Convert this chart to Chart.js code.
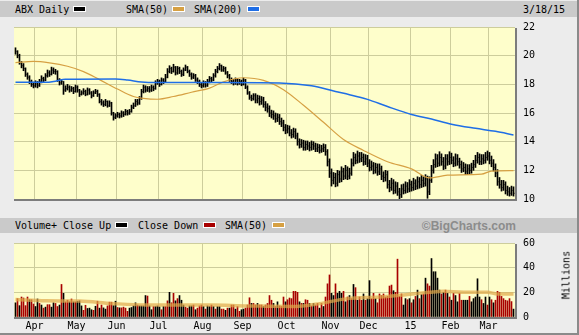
<!DOCTYPE html>
<html>
<head>
<meta charset="utf-8">
<title>ABX Daily</title>
<script src="https://cdn.jsdelivr.net/npm/chart.js@4.4.1/dist/chart.umd.min.js"></script>
<style>
  html, body { margin: 0; padding: 0; }
  body { width: 579px; height: 335px; overflow: hidden; background: #ececec;
         font: 10px "DejaVu Sans Mono", monospace; color: #000; }
  #frame { position: relative; width: 577px; height: 333px;
           border-right: 2px solid #8a8a8a; border-bottom: 2px solid #8a8a8a; }
  .bar { position: absolute; left: 0; width: 577px; background: #cacaca; }
  #topBar { top: 1px; height: 16px; }
  #volBar { top: 218px; height: 15px; }
  .lbl { position: absolute; white-space: pre; line-height: 12px; }
  .sw { position: absolute; width: 11px; height: 4px; border: 1px solid #fff; }
  canvas { position: absolute; left: 0; }
  #priceChart { top: 13px; }
  #volChart { top: 229px; }
  #millions { position: absolute; left: 566px; top: 275px; white-space: nowrap;
              transform: translate(-50%, -50%) rotate(-90deg); }
  #credit { position: absolute; right: 61px; top: 219px; line-height: 12px;
            font: bold 12px "Liberation Sans", Arial, sans-serif; color: #8c8c8c; }
</style>
</head>
<body>
<div id="frame">
  <div class="bar" id="topBar"></div>
  <span class="lbl" style="left:15px;top:4px">ABX Daily</span>
  <span class="sw" style="left:73px;top:6px;background:#000"></span>
  <span class="lbl" style="left:126px;top:4px">SMA(50)</span>
  <span class="sw" style="left:172px;top:6px;background:#d6a043"></span>
  <span class="lbl" style="left:194px;top:4px">SMA(200)</span>
  <span class="sw" style="left:247px;top:6px;background:#1f6ee6"></span>
  <span class="lbl" style="left:523px;top:4px">3/18/15</span>

  <canvas id="priceChart" width="579" height="200"></canvas>

  <div class="bar" id="volBar"></div>
  <span class="lbl" style="left:15px;top:220px">Volume+</span>
  <span class="lbl" style="left:63px;top:220px">Close Up</span>
  <span class="sw" style="left:115px;top:222px;background:#000"></span>
  <span class="lbl" style="left:138px;top:220px">Close Down</span>
  <span class="sw" style="left:203px;top:222px;background:#a80000"></span>
  <span class="lbl" style="left:225px;top:220px">SMA(50)</span>
  <span class="sw" style="left:272px;top:222px;background:#d6a043"></span>
  <span id="credit">&copy;BigCharts.com</span>

  <canvas id="volChart" width="579" height="104"></canvas>
  <div id="millions">Millions</div>
</div>

<script>
// month boundaries as trading-day index, with their axis labels
const monthStarts = [10, 31, 51, 72, 94, 114, 136, 158, 177, 198, 218, 237];
const monthLabels = ["Apr", "May", "Jun", "Jul", "Aug", "Sep", "Oct", "Nov", "Dec", "15", "Feb", "Mar"];
const priceTicks = [10, 12, 14, 16, 18, 20, 22];
const volumeTicks = [0, 20, 40, 60];

// daily prices
const closes = [
  20.3,20.0,19.5,19.3,19.1,18.7,18.5,18.2,18.0,17.9,
  18.1,17.9,18.2,18.4,18.3,18.6,18.8,18.7,19.0,18.9,
  18.9,18.3,18.1,18.2,17.6,17.7,17.8,17.6,17.7,17.5,
  17.8,17.6,17.3,17.4,17.5,17.3,17.6,17.4,17.2,17.4,
  17.5,17.3,16.8,16.7,16.6,16.8,16.5,16.7,16.0,15.7,
  15.8,15.9,15.8,16.0,15.9,16.1,16.0,16.1,16.4,16.5,
  16.8,16.7,17.0,17.5,17.8,17.6,17.7,17.6,17.8,17.7,
  18.1,18.2,18.0,18.3,18.2,18.5,18.9,19.1,18.9,19.2,
  18.8,19.1,18.9,18.7,19.0,19.2,18.9,18.7,18.5,18.6,
  18.3,18.2,18.0,17.9,18.1,17.9,18.2,18.4,18.3,18.6,
  18.9,19.1,19.3,19.0,19.1,18.8,18.6,18.3,18.2,18.1,
  18.3,18.1,18.2,18.0,18.3,17.8,17.4,17.1,17.0,17.2,
  16.9,17.0,16.8,16.9,16.6,16.4,16.3,16.0,15.9,15.8,
  15.6,15.7,15.4,15.3,15.0,14.8,14.9,14.6,14.5,14.7,
  14.4,14.0,13.8,13.9,13.6,13.8,13.7,13.6,13.8,13.7,
  13.5,13.6,13.4,13.5,13.6,13.3,12.6,11.8,11.3,11.5,
  11.1,11.7,11.4,11.9,11.6,12.0,11.6,11.8,12.5,12.9,
  12.7,13.0,12.8,12.9,12.6,12.8,12.5,12.2,12.3,12.0,
  12.2,11.9,12.1,11.6,11.5,11.7,11.0,10.8,11.1,10.6,
  10.9,10.5,10.3,10.7,10.6,10.9,10.7,11.0,10.8,11.1,
  10.9,11.2,11.0,11.3,11.1,11.4,10.5,11.3,12.0,12.4,
  12.8,12.5,12.9,12.6,12.3,12.8,12.6,12.9,12.7,12.5,
  12.8,12.6,12.4,12.1,12.2,11.9,12.1,12.0,12.2,12.4,
  12.7,12.9,12.6,12.8,12.7,12.9,13.0,12.7,12.5,12.2,
  11.8,11.2,11.0,10.8,11.0,10.6,10.5,10.4,10.6,10.4
];
const highs = [
  20.55,20.35,20.1,19.6,19.45,19.15,18.8,18.6,18.3,18.15,
  18.25,18.2,18.35,18.6,18.5,18.75,19.0,18.95,19.2,19.15,
  19.05,18.95,18.4,18.35,18.2,17.9,18.0,17.9,17.85,17.8,
  17.95,17.9,17.65,17.55,17.7,17.6,17.75,17.7,17.5,17.55,
  17.65,17.6,17.35,16.95,16.85,16.95,16.85,16.85,16.75,16.05,
  15.95,16.05,16.0,16.15,16.1,16.25,16.2,16.25,16.55,16.7,
  16.95,16.95,17.15,17.65,17.95,17.9,17.85,17.85,17.95,17.9,
  18.25,18.35,18.3,18.45,18.4,18.7,19.1,19.3,19.2,19.4,
  19.25,19.25,19.2,19.0,19.15,19.35,19.25,19.0,18.8,18.75,
  18.7,18.45,18.3,18.1,18.25,18.2,18.35,18.55,18.5,18.75,
  19.05,19.25,19.45,19.35,19.25,19.2,18.9,18.7,18.45,18.35,
  18.45,18.4,18.35,18.3,18.45,18.35,17.9,17.5,17.25,17.35,
  17.35,17.25,17.2,17.15,17.1,16.8,16.65,16.5,16.2,16.15,
  16.0,15.95,15.9,15.65,15.5,15.2,15.15,15.1,14.85,14.95,
  14.9,14.6,14.2,14.15,14.1,14.05,14.05,13.95,14.05,14.0,
  13.9,13.85,13.8,13.75,13.85,13.8,13.45,12.8,12.1,11.85,
  11.8,12.0,11.95,12.25,12.15,12.35,12.25,12.15,12.8,13.25,
  13.15,13.35,13.25,13.25,13.15,13.1,13.05,12.75,12.65,12.55,
  12.5,12.45,12.45,12.3,11.9,12.0,11.95,11.3,11.45,11.35,
  11.2,11.15,10.75,11.0,11.05,11.2,11.15,11.35,11.25,11.45,
  11.35,11.55,11.5,11.65,11.55,11.7,11.6,11.55,12.35,12.75,
  13.15,13.1,13.3,13.15,12.9,13.1,13.1,13.3,13.2,12.95,
  13.15,13.1,12.85,12.65,12.55,12.45,12.4,12.4,12.5,12.7,
  13.05,13.25,13.15,13.1,13.1,13.25,13.35,13.25,13.0,12.75,
  12.45,12.05,11.5,11.3,11.3,11.2,10.9,10.8,10.9,10.85
];
const lows = [
  20.1,19.85,19.4,19.15,18.95,18.55,18.35,18.05,17.85,17.75,
  17.8,17.75,17.85,18.1,18.15,18.25,18.5,18.55,18.65,18.75,
  18.7,18.2,17.95,18.0,17.3,17.5,17.6,17.45,17.5,17.35,
  17.45,17.45,17.15,17.25,17.3,17.2,17.25,17.3,17.05,17.15,
  17.35,17.15,16.7,16.55,16.45,16.5,16.4,16.45,15.85,15.5,
  15.6,15.7,15.65,15.7,15.75,15.85,15.85,15.9,16.05,16.3,
  16.45,16.55,16.6,16.95,17.4,17.45,17.5,17.45,17.5,17.55,
  17.65,18.0,17.85,17.95,18.05,18.15,18.45,18.8,18.75,18.85,
  18.65,18.7,18.75,18.55,18.6,18.95,18.8,18.55,18.35,18.4,
  18.2,18.05,17.85,17.75,17.8,17.8,17.85,18.1,18.15,18.25,
  18.5,18.8,19.0,18.9,18.9,18.7,18.45,18.2,18.05,17.95,
  18.0,17.95,18.0,17.9,17.95,17.7,17.3,16.95,16.85,16.9,
  16.7,16.7,16.55,16.6,16.4,16.15,16.05,15.75,15.65,15.55,
  15.35,15.4,15.2,15.05,14.75,14.55,14.6,14.4,14.25,14.3,
  14.2,13.75,13.55,13.6,13.4,13.4,13.45,13.35,13.4,13.45,
  13.3,13.3,13.2,13.25,13.3,13.05,12.3,11.5,10.9,11.05,
  10.85,10.9,11.15,11.2,11.35,11.4,11.35,11.4,11.65,12.3,
  12.45,12.5,12.55,12.6,12.35,12.4,12.25,11.95,12.0,11.75,
  11.8,11.65,11.7,11.35,11.2,11.25,10.75,10.5,10.6,10.35,
  10.4,10.25,10.0,10.1,10.35,10.4,10.45,10.5,10.55,10.6,
  10.65,10.7,10.75,10.8,10.85,10.9,10.05,10.3,11.15,11.8,
  12.2,12.25,12.3,12.35,12.05,12.1,12.35,12.4,12.45,12.25,
  12.3,12.35,12.15,11.85,11.9,11.7,11.7,11.75,11.8,12.0,
  12.2,12.5,12.4,12.4,12.45,12.5,12.7,12.45,12.25,11.95,
  11.55,10.95,10.75,10.55,10.6,10.35,10.25,10.2,10.25,10.2
];

// daily volume in millions, 1 = close up, 0 = close down
const volumes = [
  11.5,14.9,9.2,16.2,15.4,9.2,16.2,14,14,10.5,
  8.5,14.6,11,9.7,7.2,8,10,10,8,11.5,
  11,8.5,9.7,26.4,19.2,12.3,13.6,12.3,14.6,12.3,
  12.3,12.8,13.1,9,5.4,9.5,6.9,7.2,5.9,5.4,
  8.7,12.8,7.2,9.7,7.4,6.4,9,12,12,9.2,
  12.8,7.7,7.4,7.4,8,7.2,4.6,7.2,7.7,9,
  11.5,9.7,9,9,9,17.4,17,9,5.9,8.5,
  8.5,9,8.2,5.9,8.5,8.5,13.1,20,11.5,19.2,
  13.1,14.9,17.4,13.6,9.7,8,7.2,9,9,9.7,
  5.9,7.2,9,9.7,8.5,6.4,9,8.5,9.7,8.5,
  6.4,8.5,8.5,6.4,6.4,5.4,7.2,7.2,9.7,9.7,
  6.4,8.5,4.6,5.9,6.4,7.2,9.7,15.6,11,11,
  9.7,11,9.7,9.7,8.5,9.7,
  11,17.4,13.6,11,8.5,12.3,9,8.5,16.2,12.3,
  14,15.4,14.9,20.8,20.8,20,12.3,11,11,14,
  13.6,11,9,11,9.7,11,7.2,11,8.5,16.2,
  26.9,34.1,19.2,17.4,26.9,19.2,20.8,19.2,20.8,12.3,
  16.2,17.4,14.9,26.4,23.8,13.6,16.2,13.6,18.7,13.6,
  14.9,29.5,14.9,19.2,14.9,11.5,18.7,17.4,18.7,16.2,
  16.7,25.1,25.9,21.3,20,46.9,16.7,18.7,9.7,14.9,
  14,14.9,11.5,14,16.7,21.8,14.9,18.2,18.7,31.5,
  26.9,25.1,47.4,36.7,36.7,31.5,21.8,18.7,20,21.8,
  19.2,16.2,13.6,19.2,17.4,12.3,19.2,13.6,13.6,13.6,
  13.6,16.7,12.3,14.9,16.2,31,16.2,14,11,16.2,
  9.7,16.2,14,11.5,13.6,20.8,20,16.7,14.9,13.6,
  13.1,14.9,12.5,6.4
];
const closeUp = [
  1,0,1,0,0,0,0,1,0,0,
  1,1,0,1,0,1,0,0,1,1,
  0,0,1,0,1,0,0,1,0,1,
  0,1,1,1,0,0,1,1,1,0,
  1,0,1,0,1,1,0,0,0,1,
  1,0,1,0,0,0,0,1,1,1,
  1,0,1,1,1,1,0,1,1,0,
  1,1,1,0,1,0,0,1,0,0,
  1,0,1,1,1,0,0,1,1,0,
  1,0,0,0,1,0,1,1,0,1,
  0,1,1,0,0,1,0,1,0,0,
  1,0,0,1,1,0,0,0,1,0,
  0,1,0,0,1,0,
  0,0,0,1,0,1,0,0,0,1,
  0,0,0,0,0,0,1,0,1,0,
  0,1,0,1,0,0,1,0,1,0,
  0,0,1,1,0,1,1,1,0,1,
  0,1,0,1,0,1,0,0,1,0,
  1,1,0,0,1,0,0,0,0,0,
  0,0,0,1,0,0,0,0,1,1,
  0,1,0,1,0,1,0,1,0,1,
  0,0,1,1,1,1,1,0,1,0,
  1,0,1,0,1,1,0,0,1,1,
  1,0,1,1,1,1,1,0,1,1,
  0,1,0,1,0,0,0,0,0,0,
  0,0,0,1
];

// moving averages, sampled by trading-day index
const sma50Days = [0, 9, 17, 26, 34, 42, 51, 59, 64, 71, 79, 88, 97, 104, 114, 124, 134, 144, 154, 164, 174, 186, 198, 207, 216, 233, 238, 249];
const sma50 = [19.52, 19.6, 19.5, 19.26, 18.89, 18.33, 17.67, 17.15, 17.02, 16.96, 17.15, 17.45, 17.74, 18.17, 18.46, 18.28, 17.63, 16.54, 15.35, 14.15, 13.39, 12.6, 12.1, 11.47, 11.66, 11.73, 11.95, 11.98];
const sma200Days = [0, 15, 20, 25, 50, 56, 63, 70, 100, 132, 148, 160, 167, 176, 186, 198, 208, 218, 230, 240, 249];
const sma200 = [18.15, 18.14, 18.22, 18.35, 18.37, 18.3, 18.17, 18.13, 18.13, 18.1, 17.9, 17.5, 17.28, 16.95, 16.45, 15.9, 15.58, 15.22, 14.93, 14.72, 14.47];
const volSmaDays = [0, 15, 32, 48, 65, 82, 98, 115, 125, 140, 150, 166, 182, 191, 207, 214, 224, 236, 241, 249];
const volSma = [14.1, 13.1, 12.9, 11.0, 9.7, 9.7, 9.7, 9.0, 8.8, 8.6, 10.3, 14.9, 16.2, 17.4, 20.0, 20.8, 20.0, 20.0, 18.7, 18.7];

const gridColor = "#cdcd9c";
const plotBg = "#fefecb";
const monoFont = { family: "DejaVu Sans Mono", size: 10 };

Chart.defaults.font.family = monoFont.family;
Chart.defaults.font.size = monoFont.size;
Chart.defaults.color = "#000";

const toPoints = (days, vals) => days.map((d, i) => ({ x: d, y: vals[i] }));

// yellow plot background plus the dark shadow edge
const plotFrame = {
  id: "plotFrame",
  beforeDraw(chart) {
    const a = chart.chartArea, ctx = chart.ctx;
    ctx.save();
    ctx.fillStyle = plotBg;
    ctx.fillRect(a.left, a.top, a.right - a.left, a.bottom - a.top);
    ctx.restore();
  },
  afterDraw(chart) {
    const a = chart.chartArea, ctx = chart.ctx;
    ctx.save();
    ctx.fillStyle = "#7c7c7c";
    ctx.fillRect(a.left, a.bottom, a.right - a.left + 2, 2);
    ctx.fillRect(a.right, a.top + 1, 2, a.bottom - a.top + 1);
    ctx.restore();
  }
};

function timeAxis(showLabels) {
  return {
    type: "linear",
    bounds: "data",
    min: -0.75,
    max: closes.length - 0.25,
    offset: false,
    afterBuildTicks: s => { s.ticks = monthStarts.map(d => ({ value: d - 0.5 })); },
    grid: { color: gridColor, drawTicks: false, offset: false },
    border: { display: false },
    ticks: {
      display: showLabels, padding: 3, maxRotation: 0, autoSkip: false,
      callback: (v, i) => monthLabels[i]
    },
    afterFit: s => { s.height = showLabels ? 16 : 0; }
  };
}

function valueAxis(lo, hi, tickList) {
  return {
    position: "right",
    min: lo,
    max: hi,
    afterBuildTicks: s => { s.ticks = tickList.map(v => ({ value: v })); },
    grid: { color: gridColor, drawTicks: false },
    border: { display: false },
    ticks: { padding: 8 },
    afterFit: s => { s.width = 64; }
  };
}

const common = {
  responsive: false,
  devicePixelRatio: 1,
  animation: false,
  events: [],
  plugins: { legend: { display: false }, tooltip: { enabled: false } }
};

new Chart(document.getElementById("priceChart"), {
  type: "bar",
  data: {
    datasets: [
      {
        type: "line", label: "SMA(200)", data: toPoints(sma200Days, sma200),
        borderColor: "#1f6ee6", borderWidth: 1.5, pointRadius: 0,
        cubicInterpolationMode: "monotone"
      },
      {
        type: "line", label: "SMA(50)", data: toPoints(sma50Days, sma50),
        borderColor: "#d6a043", borderWidth: 1.2, pointRadius: 0,
        cubicInterpolationMode: "monotone"
      },
      {
        type: "scatter", label: "Close",
        data: closes.map((c, i) => ({ x: i, y: c })),
        pointStyle: "dash", pointRadius: 1,
        pointBorderColor: "#000", pointBackgroundColor: "#000", pointBorderWidth: 1
      },
      {
        type: "bar", label: "ABX",
        data: closes.map((c, i) => ({ x: i, y: [lows[i], highs[i]] })),
        backgroundColor: "#000", borderWidth: 0, barThickness: 1, grouped: false
      }
    ]
  },
  options: {
    ...common,
    layout: { padding: { left: 14, top: 10, right: 0, bottom: 6 } },
    scales: { x: timeAxis(false), y: valueAxis(10, 22, priceTicks) }
  },
  plugins: [plotFrame]
});

new Chart(document.getElementById("volChart"), {
  type: "bar",
  data: {
    datasets: [
      {
        type: "line", label: "SMA(50)", data: toPoints(volSmaDays, volSma),
        borderColor: "rgba(224,168,72,0.7)", borderWidth: 3.5, pointRadius: 0,
        cubicInterpolationMode: "monotone"
      },
      {
        type: "bar", label: "Volume",
        data: volumes.map((v, i) => ({ x: i, y: v })),
        backgroundColor: closeUp.map(u => (u ? "#000" : "#a80000")),
        borderWidth: 0, barThickness: 1, grouped: false
      }
    ]
  },
  options: {
    ...common,
    layout: { padding: { left: 14, top: 10, right: 0, bottom: 0 } },
    scales: { x: timeAxis(true), y: valueAxis(0, 60, volumeTicks) }
  },
  plugins: [plotFrame]
});
</script>
</body>
</html>
